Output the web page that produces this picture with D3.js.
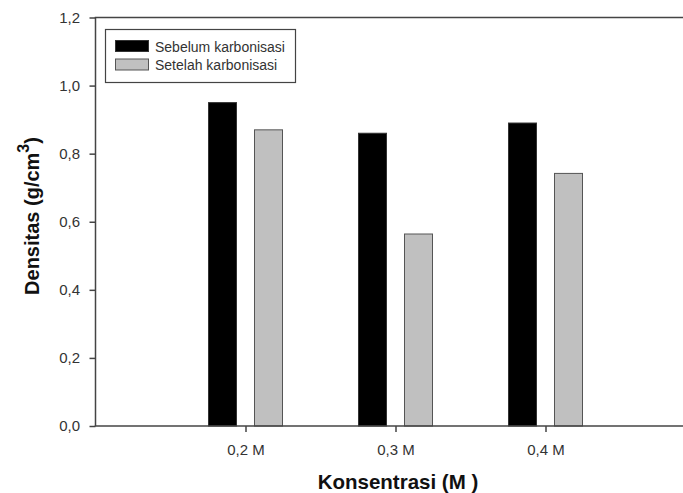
<!DOCTYPE html>
<html><head><meta charset="utf-8">
<script src="https://cdn.jsdelivr.net/npm/d3@7"></script>
<style>body{margin:0;background:#fff;} svg{display:block;font-family:"Liberation Sans",Arial,sans-serif;}</style>
</head><body>
<svg id="c" width="683" height="493"></svg>
<script>
const categories = ["0,2 M", "0,3 M", "0,4 M"];
const seriesNames = ["Sebelum karbonisasi", "Setelah karbonisasi"];
const sebelum = [0.95, 0.86, 0.89];
const setelah = [0.87, 0.564, 0.742];
const yTicks = [0, 0.2, 0.4, 0.6, 0.8, 1.0, 1.2];

(function () {
const svg = d3.select("#c");
const pL = 95.5, pR = 695.5, pT = 17.5, pB = 426;
const x = d3.scalePoint().domain(categories).range([pL, pR]).padding(1);
const y = d3.scaleLinear().domain([0, 1.2]).range([pB, pT]);
const fmt = d => d3.format(".1f")(d).replace(".", ",");

// bars
const barW = 28, off = 9;
const colors = ["#000000", "#c0c0c0"];
const strokes = ["#333333", "#555555"];
[sebelum, setelah].forEach((vals, si) => {
  svg.append("g").selectAll("rect").data(vals).join("rect")
    .attr("x", (d, i) => si === 0 ? x(categories[i]) - off - barW : x(categories[i]) + off)
    .attr("y", d => y(d))
    .attr("width", barW)
    .attr("height", d => pB - y(d))
    .attr("fill", colors[si])
    .attr("stroke", strokes[si])
    .attr("stroke-width", 1);
});

// axes
const axisColor = "#444";
const yAxis = svg.append("g").attr("transform", `translate(${pL},0)`)
  .call(d3.axisLeft(y).tickValues(yTicks).tickFormat(fmt).tickSize(6).tickPadding(9.5));
const xAxis = svg.append("g").attr("transform", `translate(0,${pB})`)
  .call(d3.axisBottom(x).tickSize(6).tickPadding(12));
[yAxis, xAxis].forEach(a => {
  a.select(".domain").remove();
  a.selectAll("line").attr("stroke", axisColor).attr("stroke-width", 1.5);
  a.selectAll("text").attr("fill", "#333").style("font-size", "15px").style("font-family", '"Liberation Sans",Arial,sans-serif');
});
// frame lines (left, bottom, top)
svg.append("line").attr("x1", pL).attr("x2", pL).attr("y1", pT).attr("y2", pB).attr("stroke", axisColor).attr("stroke-width", 1.5);
svg.append("line").attr("x1", pL - 0.75).attr("x2", 683).attr("y1", pB).attr("y2", pB).attr("stroke", axisColor).attr("stroke-width", 1.5);
svg.append("line").attr("x1", pL - 0.75).attr("x2", 683).attr("y1", pT).attr("y2", pT).attr("stroke", axisColor).attr("stroke-width", 1.5);

// axis titles
svg.append("text").attr("x", 398).attr("y", 488.5).attr("text-anchor", "middle")
  .style("font-size", "20.5px").style("font-weight", "bold").attr("fill", "#111")
  .text("Konsentrasi (M )");
const yt = svg.append("text").attr("transform", "translate(38.5,216) rotate(-90)").attr("text-anchor", "middle")
  .style("font-size", "20px").style("font-weight", "bold").attr("fill", "#111");
yt.append("tspan").text("Densitas (g/cm");
yt.append("tspan").attr("dy", -10).style("font-size", "16px").text("3");
yt.append("tspan").attr("dy", 10).text(")");

// legend
const lg = svg.append("g");
lg.append("rect").attr("x", 105.5).attr("y", 29.5).attr("width", 190).attr("height", 53)
  .attr("fill", "#fff").attr("stroke", "#444").attr("stroke-width", 1.2);
seriesNames.forEach((n, i) => {
  lg.append("rect").attr("x", 115.5).attr("y", 40.5 + i * 18.5).attr("width", 33).attr("height", 11)
    .attr("fill", colors[i]).attr("stroke", strokes[i]).attr("stroke-width", 1);
  lg.append("text").attr("x", 155).attr("y", 51.5 + i * 18).style("font-size", "14px")
    .attr("fill", "#333").text(n);
});
})();
</script>
</body></html>
